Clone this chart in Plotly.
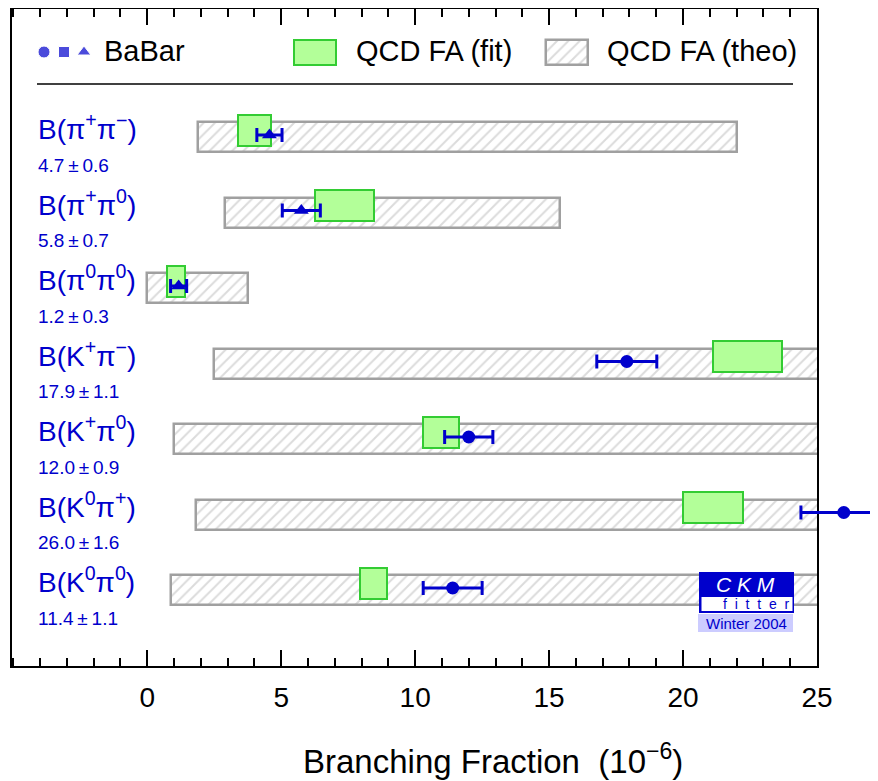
import plotly.graph_objects as go

# ---------------- data ----------------
labels = ["B(π<sup>+</sup>π<sup>−</sup>)", "B(π<sup>+</sup>π<sup>0</sup>)", "B(π<sup>0</sup>π<sup>0</sup>)",
          "B(K<sup>+</sup>π<sup>−</sup>)", "B(K<sup>+</sup>π<sup>0</sup>)", "B(K<sup>0</sup>π<sup>+</sup>)",
          "B(K<sup>0</sup>π<sup>0</sup>)"]
value_labels = ["4.7\u2009±\u20090.6", "5.8\u2009±\u20090.7", "1.2\u2009±\u20090.3", "17.9\u2009±\u20091.1",
                "12.0\u2009±\u20090.9", "26.0\u2009±\u20091.6", "11.4\u2009±\u20091.1"]
rows = [0, 1, 2, 3, 4, 5, 6]

theo_low = [1.9, 2.9, 0.0, 2.5, 1.0, 1.8, 0.9]
theo_high = [22.0, 15.4, 3.75, 28.0, 28.0, 28.0, 28.0]

fit_low = [3.4, 6.25, 0.75, 21.1, 10.3, 20.0, 7.95]
fit_high = [4.62, 8.45, 1.4, 23.7, 11.65, 22.25, 8.95]

babar_val = [4.56, 5.75, 1.17, 17.9, 12.0, 26.0, 11.4]
babar_err = [0.47, 0.71, 0.3, 1.12, 0.9, 1.6, 1.1]
babar_symbol = ["triangle-up", "triangle-up", "triangle-up", "circle", "circle", "circle", "circle"]

tick_vals = [0, 5, 10, 15, 20, 25]
x_range = [-5.05, 25]

# ---------------- style / layout constants ----------------
BODY = 8                      # default page margin around the figure
W, H = 878 - BODY, 781 - BODY
FRAME_L, FRAME_R, FRAME_T, FRAME_B = 12, 817, 9, 666   # page pixels
ML, MT = FRAME_L - BODY, FRAME_T - BODY
MR, MB = 0, 781 - FRAME_B
PW, PH = W - ML - MR, FRAME_B - FRAME_T
XDOM = (FRAME_R - FRAME_L) / PW
PX_PER_UNIT = (FRAME_R - FRAME_L) / (x_range[1] - x_range[0])
x2_range = [x_range[0], x_range[0] + PW / PX_PER_UNIT]

FONT = "Liberation Sans, Arial, Helvetica, sans-serif"
BLUE = "#0000cc"
GREEN_FILL = "#b3ff99"
GREEN_LINE = "#33cc33"
GRAY_LINE = "#a0a0a0"
HATCH = dict(shape="/", fgcolor="#b8b8b8", bgcolor="white", size=8, solidity=0.25)
ROW_PX = 75.5
YTOP = -(137 - FRAME_T) / ROW_PX
YBOT = 6 + (FRAME_B - 590) / ROW_PX
LEG_Y = YTOP + (52 - FRAME_T) / ROW_PX


def xp(px):
    return (px - FRAME_L) / PW


def yp(py):
    return (FRAME_B - py) / PH


def xd(px):
    # page pixel -> data x (for legend decorations)
    return x_range[0] + (px - FRAME_L) / PX_PER_UNIT


fig = go.Figure()

# theory bands (hatched)
fig.add_trace(go.Bar(
    orientation="h", y=rows, base=theo_low,
    x=[h - l for l, h in zip(theo_low, theo_high)],
    width=30 / ROW_PX,
    marker=dict(color="white", line=dict(color=GRAY_LINE, width=2.5), pattern=HATCH),
    showlegend=False, hoverinfo="skip"))

# fit boxes (green)
fig.add_trace(go.Bar(
    orientation="h", y=[r - 7 / ROW_PX for r in rows], base=fit_low,
    x=[h - l for l, h in zip(fit_low, fit_high)],
    width=31 / ROW_PX,
    marker=dict(color=GREEN_FILL, line=dict(color=GREEN_LINE, width=2)),
    showlegend=False, hoverinfo="skip"))

# legend boxes as bars
fig.add_trace(go.Bar(
    orientation="h", y=[LEG_Y], base=[xd(546)], x=[xd(588) - xd(546)], width=25 / ROW_PX,
    marker=dict(color="white", line=dict(color=GRAY_LINE, width=2.5), pattern=HATCH),
    showlegend=False, hoverinfo="skip"))
fig.add_trace(go.Bar(
    orientation="h", y=[LEG_Y], base=[xd(294)], x=[xd(336) - xd(294)], width=25 / ROW_PX,
    marker=dict(color=GREEN_FILL, line=dict(color=GREEN_LINE, width=2)),
    showlegend=False, hoverinfo="skip"))

# BaBar measurements (on a second x axis with identical scale that runs to the page edge)
fig.add_trace(go.Scatter(
    x=babar_val, y=[r - 2 / ROW_PX for r in rows], mode="markers",
    xaxis="x2", yaxis="y",
    marker=dict(symbol=babar_symbol, size=13, color=BLUE),
    error_x=dict(type="data", array=babar_err, color=BLUE, thickness=3, width=7),
    showlegend=False, hoverinfo="skip"))

# legend symbols
fig.add_trace(go.Scatter(
    x=[xd(44), xd(64), xd(84)], y=[LEG_Y] * 3, mode="markers",
    marker=dict(symbol=["circle", "square", "triangle-up"], size=[12, 11, 12], color=BLUE),
    showlegend=False, hoverinfo="skip"))

annotations = []
for r, lab, vl in zip(rows, labels, value_labels):
    annotations.append(dict(x=xp(36), xref="paper", y=r, yref="y", yshift=10, text=lab,
                            xanchor="left", yanchor="middle", showarrow=False,
                            font=dict(family=FONT, size=28, color=BLUE)))
    annotations.append(dict(x=xp(36), xref="paper", y=r, yref="y", yshift=-28, text=vl,
                            xanchor="left", yanchor="middle", showarrow=False,
                            font=dict(family=FONT, size=19, color=BLUE)))

# legend texts
for txt, px in [("BaBar", 102), ("QCD FA (fit)", 354), ("QCD FA (theo)", 605)]:
    annotations.append(dict(x=xp(px), xref="paper", y=LEG_Y, yref="y", yshift=1, text=txt,
                            xanchor="left", yanchor="middle", showarrow=False,
                            font=dict(family=FONT, size=29, color="black")))

# axis title
annotations.append(dict(x=xp(493), xref="paper", y=yp(759), yref="paper",
                        text="Branching Fraction  (10<sup>−6</sup>)", showarrow=False,
                        xanchor="center", yanchor="middle",
                        font=dict(family=FONT, size=33, color="black")))

# CKM fitter logo
annotations.append(dict(x=xp(745), xref="paper", y=yp(584), yref="paper", text="<i>C K M</i>",
                        showarrow=False, xanchor="center", yanchor="middle",
                        font=dict(family=FONT, size=21, color="white")))
annotations.append(dict(x=xp(756), xref="paper", y=yp(604), yref="paper", text="f  i  t  t  e  r",
                        showarrow=False, xanchor="center", yanchor="middle",
                        font=dict(family=FONT, size=14, color=BLUE)))
annotations.append(dict(x=xp(746), xref="paper", y=yp(623), yref="paper", text="Winter 2004",
                        showarrow=False, xanchor="center", yanchor="middle",
                        font=dict(family=FONT, size=15, color=BLUE)))

shapes = [
    dict(type="line", xref="paper", yref="paper", x0=xp(37), x1=xp(793), y0=yp(84), y1=yp(84),
         line=dict(color="black", width=1.5)),
    dict(type="rect", xref="paper", yref="paper", x0=xp(699), x1=xp(794), y0=yp(613), y1=yp(572),
         fillcolor=BLUE, line=dict(width=0), layer="above"),
    dict(type="rect", xref="paper", yref="paper", x0=xp(701.5), x1=xp(792.5), y0=yp(611), y1=yp(597),
         fillcolor="white", line=dict(width=0), layer="above"),
    dict(type="rect", xref="paper", yref="paper", x0=xp(698), x1=xp(793), y0=yp(632), y1=yp(614),
         fillcolor="#ccccff", line=dict(width=0), layer="above"),
]

fig.update_layout(
    width=W, height=H, autosize=False,
    margin=dict(l=ML, r=MR, t=MT, b=MB, pad=0, autoexpand=False),
    paper_bgcolor="white", plot_bgcolor="rgba(0,0,0,0)",
    barmode="overlay", bargap=0,
    showlegend=False,
    annotations=annotations, shapes=shapes,
    font=dict(family=FONT, color="black"),
    xaxis=dict(domain=[0, XDOM], range=x_range, tickvals=tick_vals, ticks="inside", ticklen=16,
               tickwidth=1.5, tickcolor="black", showline=True, linecolor="black", linewidth=2,
               mirror="ticks", showgrid=False, zeroline=False, automargin=False,
               tickfont=dict(family=FONT, size=28, color="black"), ticklabelstandoff=5,
               minor=dict(dtick=1, tick0=0, ticks="inside", ticklen=8, tickwidth=1.5, tickcolor="black",
                          showgrid=False)),
    xaxis2=dict(domain=[0, 1], range=x2_range, anchor="y", visible=False,
                showgrid=False, zeroline=False, automargin=False),
    yaxis=dict(range=[YBOT, YTOP], showticklabels=False, ticks="", showline=True, linecolor="black",
               linewidth=2, mirror=True, showgrid=False, zeroline=False, automargin=False),
)

fig.write_html("out.html")
